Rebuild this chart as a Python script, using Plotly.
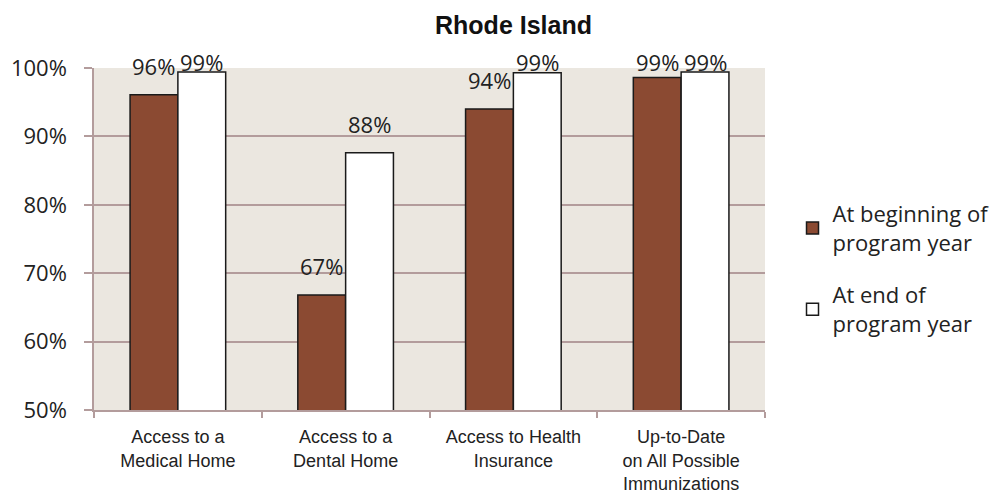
import plotly.graph_objects as go

categories = ["Access to a<br>Medical Home", "Access to a<br>Dental Home",
              "Access to Health<br>Insurance", "Up-to-Date<br>on All Possible<br>Immunizations"]
beginning = [96.1, 66.8, 94.0, 98.6]
end = [99.4, 87.6, 99.3, 99.4]
series_names = ["At beginning of<br>program year", "At end of<br>program year"]
y_ticks = [50, 60, 70, 80, 90, 100]

label_font = dict(family="Open Sans, Noto Sans, sans-serif", size=22, color="#222222")
axis_col = "#B39C9C"

fig = go.Figure()
fig.add_trace(go.Bar(
    x=categories, y=beginning, name=series_names[0], legendgroup="a",
    marker=dict(color="#8B4A32", line=dict(color="#1a1a1a", width=1.5)),
))
fig.add_trace(go.Bar(
    x=categories, y=end, name=series_names[1], legendgroup="b",
    marker=dict(color="#FFFFFF", line=dict(color="#1a1a1a", width=1.5)),
))

# data labels (Excel style: raised above bar, kept inside chart top)
for vals, shift in ((beginning, -24), (end, 24)):
    for c, v in zip(categories, vals):
        fig.add_annotation(x=c, y=min(v + 2.6, 99.3), xref="x", yref="y",
                           text=f"{v:.0f}%", showarrow=False, xshift=shift,
                           yanchor="bottom", yshift=-6, font=label_font)

fig.update_layout(
    width=1001, height=496,
    margin=dict(l=86, r=244, t=60, b=94, autoexpand=False),
    paper_bgcolor="white", plot_bgcolor="#EBE7E0",
    barmode="group", bargap=0.43, bargroupgap=0,
    title=dict(text="<b>Rhode Island</b>", x=0.505, xref="container", xanchor="center",
               y=1 - 17 / 496, yref="container", yanchor="middle",
               font=dict(family="Liberation Sans, Arial, sans-serif", size=25, color="#111111")),
    showlegend=True,
    legend=dict(x=1.041, y=0.635, xanchor="left", yanchor="top", xref="paper", yref="paper",
                font=dict(family="Open Sans, Noto Sans, sans-serif", size=22, color="#222222"),
                tracegroupgap=21, itemwidth=30, bgcolor="rgba(0,0,0,0)", traceorder="grouped"),
)
fig.update_yaxes(
    range=[50, 100], tickvals=y_ticks, ticktext=[f"{v}%" for v in y_ticks],
    showgrid=True, gridcolor=axis_col, gridwidth=1.5,
    showline=True, linecolor=axis_col, linewidth=1.5,
    ticks="outside", ticklen=8, tickcolor=axis_col, tickwidth=1.5, ticklabelstandoff=13,
    tickfont=dict(family="Open Sans, Noto Sans, sans-serif", size=22, color="#222222"),
    zeroline=False, fixedrange=True, automargin=False,
)
fig.update_xaxes(
    showline=True, linecolor=axis_col, linewidth=1.5,
    ticks="outside", tickson="boundaries", ticklen=6, tickcolor=axis_col, tickwidth=1.5,
    ticklabelstandoff=10, automargin=False,
    tickfont=dict(family="Liberation Sans, Arial, sans-serif", size=18, color="#222222"),
    showgrid=False,
)

fig.write_html("out.html")
